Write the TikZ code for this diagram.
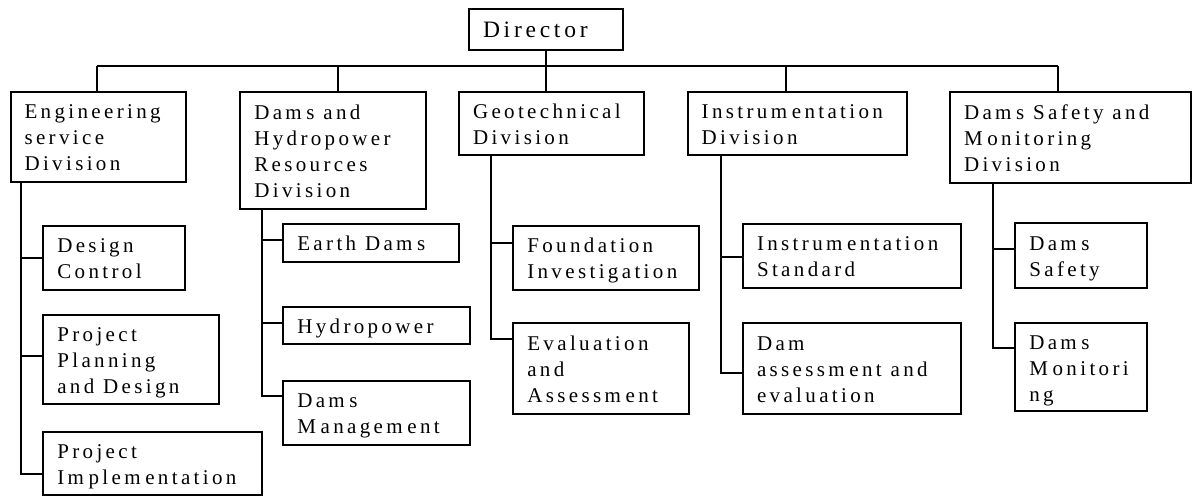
\documentclass[tikz,border=0pt]{standalone}
\usepackage{fontspec}
\setmainfont{Liberation Serif}[LetterSpace=16]
% small extra gap after the letter m, as set in the chart
\newcommand\mgap{\kern0.22em}
% unbreakable wide word space
\newcommand\wsp{\kern0.42em}
% fixed line height so every box places its baselines the same way
\newcommand\bstrut{\rule[-4.5pt]{0pt}{24.5pt}}
\begin{document}
\begin{tikzpicture}[x=1pt,y=-1pt,line width=2pt,
  unit/.style={draw, anchor=north west, inner xsep=14pt, inner ysep=0pt,
    align=left, font={\fontsize{21}{26}\selectfont\hyphenpenalty=10000\relax},
    execute at begin node=\bstrut, execute at end node=\bstrut},
  boxsize/.code 2 args={\pgfmathsetmacro\tw{#1-28}%
    \edef\tmp{\noexpand\pgfkeysalso{minimum width=#1pt, minimum height=#2pt, text width=\tw pt}}\tmp}]
\useasboundingbox (0,0) rectangle (1192,496);

% top
\node[unit, boxsize={154}{40.7}, font={\fontsize{23.5}{28}\selectfont}] (dir) at (468,8.3) {Director};

% divisions
\node[unit, boxsize={175}{89.7}]   (eng) at (9.5,91)   {Engineering\\service\\Division};
\node[unit, boxsize={185.7}{116.7}] (dhr) at (239.3,91) {Dam\mgap s\wsp and\\Hydropower\\Resources\\Division};
\node[unit, boxsize={185}{62.5}]   (geo) at (458,91)   {Geotechnical\\Division};
\node[unit, boxsize={219.3}{63}]   (ins) at (686.7,91) {Instrum\mgap entation\\Division};
\node[unit, boxsize={240.6}{91}]   (dsm) at (949,91)   {Dam\mgap s\wsp Safety\wsp and\\M\mgap onitoring\\Division};

% sections
\node[unit, boxsize={142}{64}]     (dc)  at (42.3,225)  {Design\\Control};
\node[unit, boxsize={175.4}{89.3}] (ppd) at (42.3,314)  {Project\\Planning\\and\wsp Design};
\node[unit, boxsize={218.7}{63.3}] (pi)  at (42.3,431)  {Project\\Im\mgap plem\mgap entation};

\node[unit, boxsize={176}{38}]     (ed)  at (282.3,222.7) {Earth\wsp Dam\mgap s};
\node[unit, boxsize={186.7}{37.3}] (hp)  at (282.3,306)   {Hydropower};
\node[unit, boxsize={186.7}{64}]   (dm)  at (282.3,380)   {Dam\mgap s\\M\mgap anagem\mgap ent};

\node[unit, boxsize={186}{64}]     (fi)  at (512.3,225)   {Foundation\\Investigation};
\node[unit, boxsize={175.4}{90.4}] (ea)  at (512.3,322.3) {Evaluation\\and\\Assessm\mgap ent};

\node[unit, boxsize={218.3}{63.4}] (is)  at (742,223.3)   {Instrum\mgap entation\\Standard};
\node[unit, boxsize={218.4}{90.4}] (dae) at (742,322.3)   {Dam\\assessm\mgap ent\wsp and\\evaluation};

\node[unit, boxsize={131.7}{64.4}] (ds)  at (1014.3,222.3) {Dam\mgap s\\Safety};
\node[unit, boxsize={131.7}{88}]   (dmo) at (1014.3,322.3) {Dam\mgap s\\M\mgap onitori\\ng};

% bus under the director
\coordinate (jL) at (97,66);
\coordinate (jB) at (337.5,66);
\coordinate (jD) at (786,66);
\coordinate (jR) at (1058,66);
\draw (jL) -- (jR);
\draw (dir.south) -- (dir.south |- geo.north);
\draw (jL) -- (jL |- eng.north);
\draw (jB) -- (jB |- dhr.north);
\draw (jD) -- (jD |- ins.north);
\draw (jR) -- (jR |- dsm.north);

% branch trunks
\coordinate (tE) at ([xshift=11.5pt]eng.south west);
\coordinate (tB) at ([xshift=22.2pt]dhr.south west);
\coordinate (tG) at ([xshift=33pt]geo.south west);
\coordinate (tI) at ([xshift=33.8pt]ins.south west);
\coordinate (tS) at ([xshift=44.2pt]dsm.south west);

% entry points on the sections
\coordinate (dc-in)  at (dc.west);
\coordinate (ppd-in) at ([yshift=4pt]ppd.west);
\coordinate (pi-in)  at ([yshift=-10pt]pi.west);
\coordinate (ed-in)  at ([yshift=2.4pt]ed.west);
\coordinate (hp-in)  at ([yshift=2.4pt]hp.west);
\coordinate (dm-in)  at ([yshift=17pt]dm.west);
\coordinate (fi-in)  at ([yshift=15pt]fi.west);
\coordinate (ea-in)  at ([yshift=29.8pt]ea.west);
\coordinate (is-in)  at ([yshift=-1pt]is.west);
\coordinate (dae-in) at ([yshift=-4.5pt]dae.west);
\coordinate (ds-in)  at ([yshift=6.2pt]ds.west);
\coordinate (dmo-in) at ([yshift=19.3pt]dmo.west);

\draw (tE) |- (pi-in);
\draw (tE |- dc-in) -- (dc-in);
\draw (tE |- ppd-in) -- (ppd-in);

\draw (tB) |- (dm-in);
\draw (tB |- ed-in) -- (ed-in);
\draw (tB |- hp-in) -- (hp-in);

\draw (tG) |- (ea-in);
\draw (tG |- fi-in) -- (fi-in);

\draw (tI) |- (dae-in);
\draw (tI |- is-in) -- (is-in);

\draw (tS) |- (dmo-in);
\draw (tS |- ds-in) -- (ds-in);
\end{tikzpicture}
\end{document}
